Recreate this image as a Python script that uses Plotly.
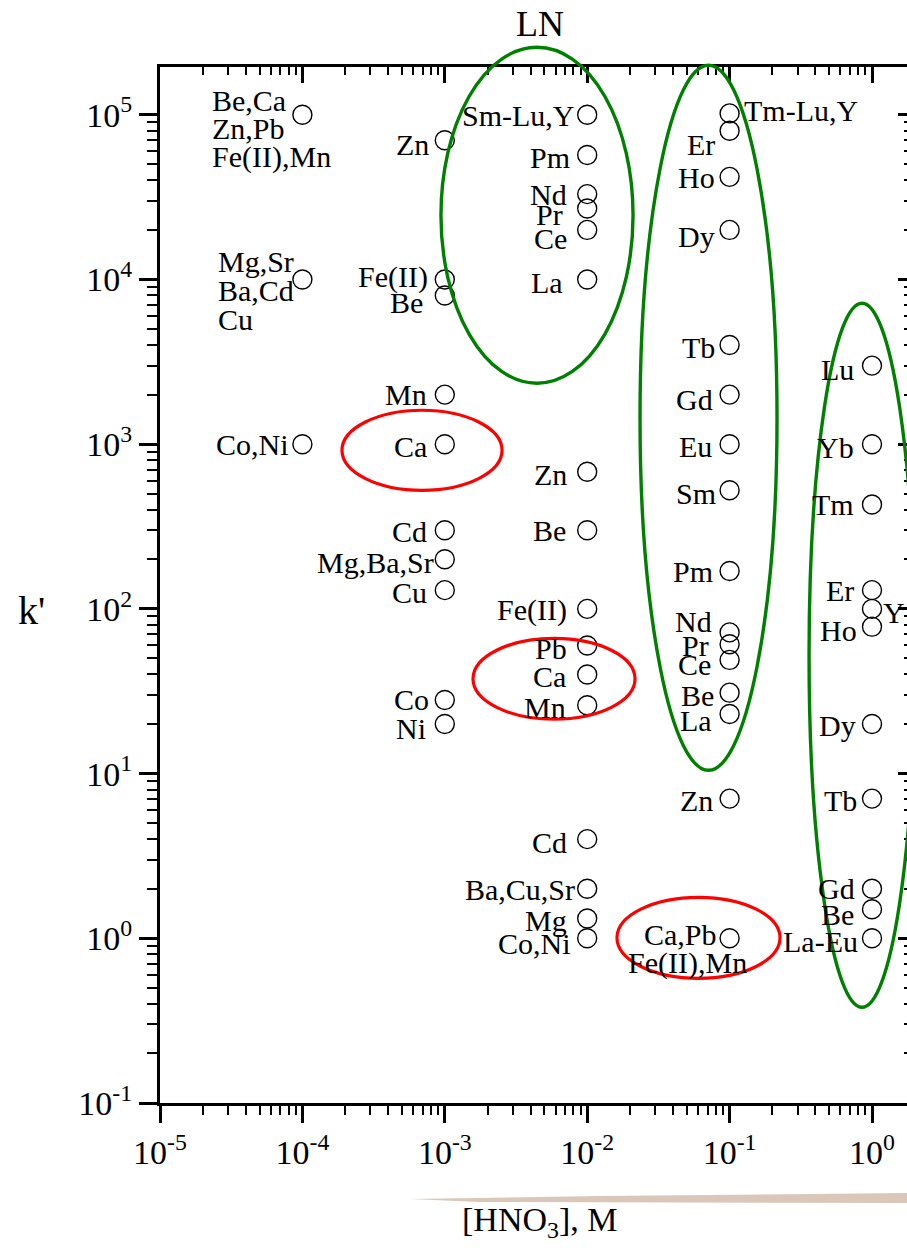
import math
import plotly.graph_objects as go

# ---------------- data ----------------
HNO3_COLS = [1e-4, 1e-3, 1e-2, 1e-1, 1e0]

K_C1 = [1e5, 1e4, 1e3]
L_C1 = [["Be,Ca", "Zn,Pb", "Fe(II),Mn"], ["Mg,Sr", "Ba,Cd", "Cu"], ["Co,Ni"]]

K_C2 = [7e4, 1e4, 8e3, 2e3, 1e3, 300, 200, 130, 28, 20]
L_C2 = [["Zn"], ["Fe(II)"], ["Be"], ["Mn"], ["Ca"], ["Cd"], ["Mg,Ba,Sr"], ["Cu"], ["Co"], ["Ni"]]

K_C3 = [1e5, 5.7e4, 3.3e4, 2.7e4, 2e4, 1e4, 680, 300, 100, 60, 40, 26, 4, 2, 1.32, 1]
L_C3 = [["Sm-Lu,Y"], ["Pm"], ["Nd"], ["Pr"], ["Ce"], ["La"], ["Zn"], ["Be"], ["Fe(II)"],
        ["Pb"], ["Ca"], ["Mn"], ["Cd"], ["Ba,Cu,Sr"], ["Mg"], ["Co,Ni"]]

K_C4 = [1.02e5, 8e4, 4.2e4, 2e4, 4e3, 2e3, 1e3, 525, 170, 72, 61, 49, 31, 23, 7.05, 1]
L_C4 = [["Tm-Lu,Y"], ["Er"], ["Ho"], ["Dy"], ["Tb"], ["Gd"], ["Eu"], ["Sm"], ["Pm"], ["Nd"],
        ["Pr"], ["Ce"], ["Be"], ["La"], ["Zn"], ["Ca,Pb", "Fe(II),Mn"]]

K_C5 = [3e3, 1e3, 430, 130, 100, 78, 20, 7.05, 2, 1.5, 1]
L_C5 = [["Lu"], ["Yb"], ["Tm"], ["Er"], ["Y"], ["Ho"], ["Dy"], ["Tb"], ["Gd"], ["Be"], ["La-Eu"]]

K_COLS = [K_C1, K_C2, K_C3, K_C4, K_C5]
L_COLS = [L_C1, L_C2, L_C3, L_C4, L_C5]

X_TICKS = [1e-5, 1e-4, 1e-3, 1e-2, 1e-1, 1e0]
X_TICKTEXT = ["10<sup>-5</sup>", "10<sup>-4</sup>", "10<sup>-3</sup>", "10<sup>-2</sup>",
              "10<sup>-1</sup>", "10<sup>0</sup>"]
Y_TICKS = [1e-1, 1e0, 1e1, 1e2, 1e3, 1e4, 1e5]
Y_TICKTEXT = ["10<sup>-1</sup>", "10<sup>0</sup>", "10<sup>1</sup>", "10<sup>2</sup>",
              "10<sup>3</sup>", "10<sup>4</sup>", "10<sup>5</sup>"]

# ---------------- label placement (pixel offsets: dx, dy(down), anchor) ----------------
DEFAULT_OFF = (-17, 2, "right")
LABEL_OFF = {
    (0, "Be,Ca"): (-91, -14, "left"), (0, "Zn,Pb"): (-91, 14, "left"),
    (0, "Fe(II),Mn"): (-91, 42, "left"),
    (0, "Mg,Sr"): (-85, -18, "left"), (0, "Ba,Cd"): (-85, 11, "left"),
    (0, "Cu"): (-85, 40, "left"), (0, "Co,Ni"): (-12, 0, "right"),
    (1, "Zn"): (-15, 4, "right"), (1, "Fe(II)"): (-16, -3, "right"), (1, "Be"): (-21, 7, "right"),
    (1, "Mn"): (-17, 0, "right"), (1, "Cd"): (-17, 1, "right"), (1, "Mg,Ba,Sr"): (-10, 3, "right"),
    (1, "Co"): (-15, 0, "right"), (1, "Ni"): (-18, 4, "right"),
    (2, "Sm-Lu,Y"): (-11, 1, "right"), (2, "Pm"): (-16, 2, "right"), (2, "Nd"): (-19, 0, "right"),
    (2, "Pr"): (-23, 6, "right"), (2, "Ce"): (-19, 9, "right"), (2, "La"): (-23, 3, "right"),
    (2, "Zn"): (-19, 3, "right"), (2, "Be"): (-20, 0, "right"), (2, "Fe(II)"): (-19, 1, "right"),
    (2, "Pb"): (-19, 3, "right"), (2, "Ca"): (-20, 2, "right"), (2, "Mn"): (-20, 2, "right"),
    (2, "Cd"): (-19, 3, "right"), (2, "Ba,Cu,Sr"): (-11, 1, "right"), (2, "Mg"): (-19, 2, "right"),
    (2, "Co,Ni"): (-15, 5, "right"),
    (3, "Tm-Lu,Y"): (13, -3, "left"), (3, "Er"): (-14, 14, "right"), (3, "Ho"): (-14, 1, "right"),
    (3, "Dy"): (-14, 7, "right"), (3, "Tb"): (-14, 2, "right"), (3, "Gd"): (-16, 5, "right"),
    (3, "Eu"): (-17, 2, "right"), (3, "Sm"): (-13, 3, "right"), (3, "Pm"): (-16, 1, "right"),
    (3, "Nd"): (-17, -11, "right"), (3, "Pr"): (-20, 1, "right"), (3, "Ce"): (-18, 5, "right"),
    (3, "Be"): (-15, 3, "right"), (3, "La"): (-17, 6, "right"), (3, "Zn"): (-16, 2, "right"),
    (3, "Ca,Pb"): (-12, -4, "right"), (3, "Fe(II),Mn"): (18, 25, "right"),
    (4, "Lu"): (-17, 4, "right"), (4, "Yb"): (-17, 3, "right"), (4, "Tm"): (-17, 0, "right"),
    (4, "Er"): (-17, 0, "right"), (4, "Y"): (10, 4, "left"), (4, "Ho"): (-14, 4, "right"),
    (4, "Dy"): (-15, 1, "right"), (4, "Tb"): (-14, 2, "right"), (4, "Gd"): (-16, 0, "right"),
    (4, "Be"): (-17, 5, "right"), (4, "La-Eu"): (-13, 3, "right"),
}

# ellipses (decade coordinates: log x0, log x1, log y0, log y1)
GREEN = "#008000"
RED = "#ff0000"
ELLIPSES = [
    (-3.027, -1.678, 3.370, 5.410, GREEN, 3.4),
    (-1.629, -0.667, 1.020, 5.301, GREEN, 3.4),
    (-0.442, 0.302, -0.419, 3.856, GREEN, 3.4),
    (-3.722, -2.598, 2.720, 3.206, RED, 3.2),
    (-2.802, -1.664, 1.330, 1.821, RED, 3.2),
    (-1.791, -0.646, -0.243, 0.249, RED, 3.2),
]

# ---------------- layout geometry ----------------
W, H = 907, 1248
ML, MR, MT, MB = 160, 0, 67, 145
XR = [-5.0, -5.0 + (W - ML - MR) / 142.4]
YR = [-1.0, -1.0 + (H - MT - MB) / 164.7]
FONT = "Liberation Serif, Times New Roman, serif"

fig = go.Figure()

for ci, (xv, ks, labs) in enumerate(zip(HNO3_COLS, K_COLS, L_COLS)):
    fig.add_trace(go.Scatter(
        x=[xv] * len(ks), y=ks, mode="markers",
        marker=dict(symbol="circle-open", size=19, color="black", line=dict(width=1.4)),
        showlegend=False, hoverinfo="skip", cliponaxis=False,
    ))
    for k, lines in zip(ks, labs):
        for line in lines:
            dx, dy, anc = LABEL_OFF.get((ci, line), DEFAULT_OFF)
            fig.add_annotation(
                x=math.log10(xv), y=math.log10(k), xref="x", yref="y",
                text=line, showarrow=False, xanchor=anc, yanchor="middle",
                xshift=dx, yshift=-dy, borderpad=0,
                font=dict(family=FONT, size=30, color="black"),
            )

# empty trace so the mirrored top / right axes are drawn
fig.add_trace(go.Scatter(x=[], y=[], xaxis="x2", yaxis="y2", showlegend=False,
                         hoverinfo="skip", mode="markers"))


def to_px(v, r):
    return (v - r[0]) / (r[1] - r[0])


for lx0, lx1, ly0, ly1, col, lw in ELLIPSES:
    fig.add_shape(type="circle", xref="paper", yref="paper",
                  x0=to_px(lx0, XR), x1=to_px(lx1, XR), y0=to_px(ly0, YR), y1=to_px(ly1, YR),
                  line=dict(color=col, width=lw), layer="above")

# brown scanning smear under the axis
PH = H - MT - MB
fig.add_shape(type="path", xref="paper", yref="paper",
              path="M {a},{b} L {h},{i} L {c},{d} L {c},{e} L {f},{g} Z".format(
                  a=(410 - ML) / (W - ML), b=(H - MB - 1199) / PH,
                  h=(600 - ML) / (W - ML), i=(H - MB - 1196) / PH,
                  c=1.0, d=(H - MB - 1193) / PH, e=(H - MB - 1203) / PH,
                  f=(480 - ML) / (W - ML), g=(H - MB - 1202) / PH),
              fillcolor="rgba(195,160,140,0.6)", line=dict(width=0), layer="below")

minor_x = [m * 10.0 ** e for e in range(-5, 1) for m in range(2, 10)]
minor_y = [m * 10.0 ** e for e in range(-1, 6) for m in range(2, 10) if m * 10.0 ** e < 10 ** YR[1]]

tickfont = dict(family=FONT, size=34, color="black")
common = dict(type="log", showgrid=False, zeroline=False, tickcolor="black", tickwidth=2.5)

fig.update_layout(
    width=W, height=H, margin=dict(l=ML, r=MR, t=MT, b=MB, autoexpand=False),
    paper_bgcolor="white", plot_bgcolor="white",
    xaxis=dict(range=XR, tickmode="array", tickvals=X_TICKS, ticktext=X_TICKTEXT,
               ticks="outside", ticklen=17, showline=True, linewidth=3, linecolor="black",
               tickfont=tickfont,
               minor=dict(tickmode="array", tickvals=minor_x, ticks="outside", ticklen=9,
                          tickwidth=2, tickcolor="black", showgrid=False), **common),
    xaxis2=dict(range=XR, overlaying="x", side="top", anchor="y", tickmode="array",
                tickvals=X_TICKS, ticks="inside", ticklen=16, showticklabels=False,
                showline=True, linewidth=3, linecolor="black",
                minor=dict(tickmode="array", tickvals=minor_x, ticks="inside", ticklen=8,
                           tickwidth=2, tickcolor="black", showgrid=False), **common),
    yaxis=dict(range=YR, tickmode="array", tickvals=Y_TICKS, ticktext=Y_TICKTEXT,
               ticks="outside", ticklen=18, showline=True, linewidth=3, linecolor="black",
               tickfont=tickfont,
               minor=dict(tickmode="array", tickvals=minor_y, ticks="outside", ticklen=10,
                          tickwidth=2, tickcolor="black", showgrid=False), **common),
    yaxis2=dict(range=YR, overlaying="y", side="right", anchor="x", tickmode="array",
                tickvals=Y_TICKS, ticks="inside", ticklen=9, showticklabels=False,
                showline=False,
                minor=dict(tickmode="array", tickvals=minor_y, ticks="inside", ticklen=3,
                           tickwidth=2, tickcolor="black", showgrid=False), **common),
)

# titles
fig.add_annotation(xref="paper", yref="paper", x=(540 - ML) / (W - ML),
                   y=(H - MB - 24) / PH, text="LN", showarrow=False,
                   xanchor="center", yanchor="middle", font=dict(family=FONT, size=36, color="black"))
fig.add_annotation(xref="paper", yref="paper", x=(31 - ML) / (W - ML),
                   y=(H - MB - 610) / PH, text="k'", showarrow=False,
                   xanchor="center", yanchor="middle", font=dict(family=FONT, size=40, color="black"))
fig.add_annotation(xref="paper", yref="paper", x=(539 - ML) / (W - ML),
                   y=(H - MB - 1222) / PH, text="[HNO<sub>3</sub>], M", showarrow=False,
                   xanchor="center", yanchor="middle", font=dict(family=FONT, size=34, color="black"))

fig.write_html("out.html", config={"displayModeBar": False},
               post_script="document.body.style.margin='0';document.body.style.overflow='hidden';")
